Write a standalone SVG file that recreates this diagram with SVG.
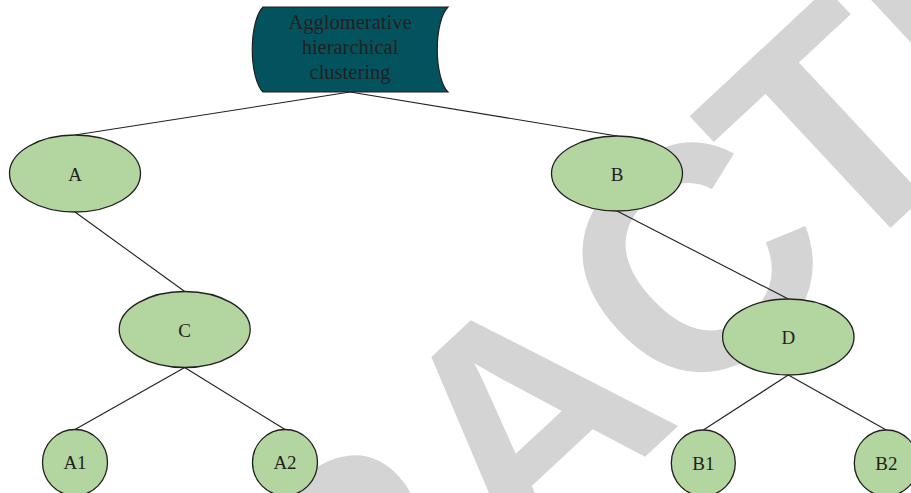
<svg xmlns="http://www.w3.org/2000/svg" width="911" height="493" viewBox="0 0 911 493">
  <style>
    .stamp { font-family: "Liberation Sans", Arial, sans-serif; font-weight: bold; font-size: 318px; fill: #d4d4d4; }
    .edge { stroke: #231f20; stroke-width: 1.1; fill: none; }
    .node ellipse { fill: #b3d5a0; stroke: #231f20; stroke-width: 1.3; }
    .root path { fill: #03535f; stroke: #231f20; stroke-width: 1.2; }
    .lbl { font-family: "Liberation Serif", "Times New Roman", serif; font-size: 19px; fill: #231f20; text-anchor: middle; }
    .title { font-family: "Liberation Serif", "Times New Roman", serif; font-size: 20.5px; fill: #231f20; text-anchor: middle; }
  </style>

  <rect width="911" height="493" fill="#ffffff"/>

  <!-- retraction stamp behind the tree -->
  <text class="stamp" transform="translate(-116.7,1167.2) rotate(-43)">RETRAC<tspan dx="-22">TED</tspan></text>

  <!-- connectors -->
  <g id="connectors">
    <line class="edge" x1="350" y1="92" x2="75" y2="135"/>
    <line class="edge" x1="350" y1="92" x2="617" y2="136"/>
    <line class="edge" x1="75" y1="212" x2="184.7" y2="291.5"/>
    <line class="edge" x1="617" y1="211" x2="788.3" y2="299"/>
    <line class="edge" x1="184.7" y1="367.5" x2="75" y2="429.5"/>
    <line class="edge" x1="184.7" y1="367.5" x2="285" y2="429.5"/>
    <line class="edge" x1="788.3" y1="375" x2="703.3" y2="430"/>
    <line class="edge" x1="788.3" y1="375" x2="886.3" y2="430"/>
  </g>

  <!-- root: stored-data shape -->
  <g id="root" class="root">
    <path d="M263,7 H448 A16,45 0 0 0 448,92 H263 A16,45 0 0 1 263,7 Z"/>
    <text class="title" x="350" y="28.5">Agglomerative</text>
    <text class="title" x="350" y="54">hierarchical</text>
    <text class="title" x="350" y="79">clustering</text>
  </g>

  <g id="node-A" class="node">
    <ellipse cx="75" cy="173.5" rx="65.5" ry="38.5"/>
    <text class="lbl" x="75" y="180.5">A</text>
  </g>
  <g id="node-B" class="node">
    <ellipse cx="617" cy="173.5" rx="65.5" ry="37.5"/>
    <text class="lbl" x="617" y="180.5">B</text>
  </g>
  <g id="node-C" class="node">
    <ellipse cx="184.7" cy="329.5" rx="65.5" ry="38"/>
    <text class="lbl" x="184.7" y="336.5">C</text>
  </g>
  <g id="node-D" class="node">
    <ellipse cx="788.3" cy="337" rx="65.7" ry="38"/>
    <text class="lbl" x="788.3" y="344">D</text>
  </g>
  <g id="node-A1" class="node">
    <ellipse cx="75" cy="462.5" rx="32.5" ry="33"/>
    <text class="lbl" x="75" y="469.3">A1</text>
  </g>
  <g id="node-A2" class="node">
    <ellipse cx="285" cy="462.5" rx="32.5" ry="33"/>
    <text class="lbl" x="285" y="469.3">A2</text>
  </g>
  <g id="node-B1" class="node">
    <ellipse cx="703.3" cy="463" rx="32" ry="33"/>
    <text class="lbl" x="703.3" y="469.8">B1</text>
  </g>
  <g id="node-B2" class="node">
    <ellipse cx="886.3" cy="463" rx="32" ry="33"/>
    <text class="lbl" x="886.3" y="469.8">B2</text>
  </g>
</svg>
